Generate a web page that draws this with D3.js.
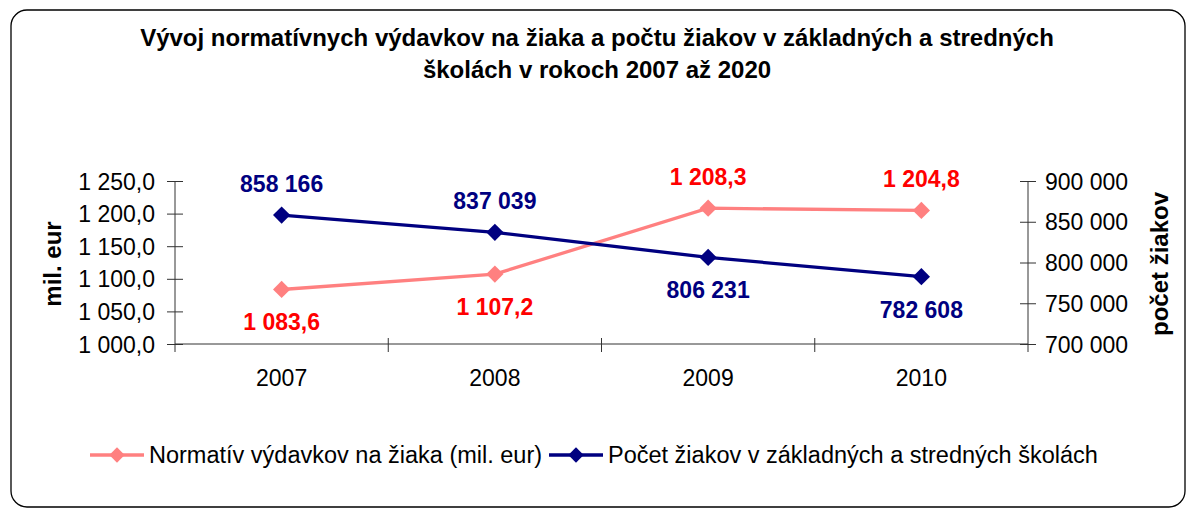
<!DOCTYPE html>
<html>
<head>
<meta charset="utf-8">
<script src="https://cdn.jsdelivr.net/npm/d3@7"></script>
<style>
  body { margin: 0; background: #fff; }
  svg { font-family: "Liberation Sans", Arial, sans-serif; }
</style>
</head>
<body>
<div id="chart"></div>
<script>
let years = ["2007", "2008", "2009", "2010"];
let normativ = [1083.6, 1107.2, 1208.3, 1204.8];
let pocet = [858166, 837039, 806231, 782608];
let normativLabels = ["1 083,6", "1 107,2", "1 208,3", "1 204,8"];
let pocetLabels = ["858 166", "837 039", "806 231", "782 608"];
let normativAbove = [false, false, true, true];
let pocetAbove = [true, true, false, false];
let leftTicks = [1000, 1050, 1100, 1150, 1200, 1250];
let rightTicks = [700000, 750000, 800000, 850000, 900000];

let width = 1186,
    height = 510;

let svg = d3.select("#chart").append("svg")
    .attr("width", width)
    .attr("height", height);

svg.append("rect")
    .attr("x", 11).attr("y", 10)
    .attr("width", 1174).attr("height", 497)
    .attr("rx", 16)
    .attr("fill", "#fff")
    .attr("stroke", "#000")
    .attr("stroke-width", 1.3);

// title
let title = svg.append("text")
    .attr("text-anchor", "middle")
    .attr("font-weight", "bold")
    .attr("font-size", 24);
title.append("tspan").attr("x", 597).attr("y", 46)
    .text("Vývoj normatívnych výdavkov na žiaka a počtu žiakov v základných a stredných");
title.append("tspan").attr("x", 597).attr("y", 78)
    .text("školách v rokoch 2007 až 2020");

let x = d3.scaleBand().domain(years).range([175, 1028]);
let yL = d3.scaleLinear().domain([1000, 1250]).range([344, 181]);
let yR = d3.scaleLinear().domain([700000, 900000]).range([344, 181]);

let axisColor = "#333";

// left axis
let gL = svg.append("g").attr("transform", "translate(175,0)")
    .call(d3.axisLeft(yL).tickValues(leftTicks).tickSize(8)
        .tickFormat(d => d3.format(",.1f")(d).replace(",", " ").replace(".", ",")));
gL.selectAll(".tick line").attr("x1", 8).attr("x2", -8).attr("stroke", axisColor);
gL.selectAll(".tick text").attr("font-size", 23).attr("x", -20).attr("dy", "0.35em")
    .attr("fill", "#000");
gL.select(".domain").remove();
gL.append("line").attr("y1", 181).attr("y2", 352).attr("stroke", axisColor);

// right axis
let gR = svg.append("g").attr("transform", "translate(1028,0)")
    .call(d3.axisRight(yR).tickValues(rightTicks).tickSize(8)
        .tickFormat(d => d3.format(",")(d).replace(/,/g, " ")));
gR.selectAll(".tick line").attr("x1", -8).attr("x2", 8).attr("stroke", axisColor);
gR.selectAll(".tick text").attr("font-size", 23).attr("x", 17).attr("dy", "0.35em")
    .attr("fill", "#000");
gR.select(".domain").remove();
gR.append("line").attr("y1", 181).attr("y2", 352).attr("stroke", axisColor);
gL.attr("font-family", null);
gR.attr("font-family", null);

// x axis
let gX = svg.append("g").attr("transform", "translate(0,344)");
gX.append("line").attr("x1", 175).attr("x2", 1028).attr("stroke", axisColor);
gX.selectAll(".xtick")
    .data(years.slice(1))
  .enter().append("line")
    .attr("x1", d => x(d)).attr("x2", d => x(d))
    .attr("y1", -6).attr("y2", 8)
    .attr("stroke", axisColor);
gX.selectAll(".xlabel")
    .data(years)
  .enter().append("text")
    .attr("x", d => x(d) + x.bandwidth() / 2)
    .attr("y", 42)
    .attr("text-anchor", "middle")
    .attr("font-size", 23)
    .text(d => d);

// axis titles
svg.append("text")
    .attr("transform", "translate(61,264) rotate(-90)")
    .attr("text-anchor", "middle")
    .attr("font-weight", "bold")
    .attr("font-size", 24)
    .text("mil. eur");
svg.append("text")
    .attr("transform", "translate(1168,264) rotate(-90)")
    .attr("text-anchor", "middle")
    .attr("font-weight", "bold")
    .attr("font-size", 24)
    .text("počet žiakov");

let pink = "#FF8080",
    navy = "#000080";
let cx = d => x(d) + x.bandwidth() / 2;
let diamond = d3.symbol().type(d3.symbolDiamond2).size(190);

function drawSeries(values, scale, color, labels, above, labelColor) {
  let g = svg.append("g");
  g.append("path")
    .datum(values)
    .attr("fill", "none")
    .attr("stroke", color)
    .attr("stroke-width", 3.3)
    .attr("d", d3.line().x((d, i) => cx(years[i])).y(d => scale(d)));
  g.selectAll(".pt")
    .data(values)
  .enter().append("path")
    .attr("transform", (d, i) => "translate(" + cx(years[i]) + "," + scale(d) + ")")
    .attr("d", diamond)
    .attr("fill", color);
  g.selectAll(".lbl")
    .data(values)
  .enter().append("text")
    .attr("x", (d, i) => cx(years[i]))
    .attr("y", (d, i) => scale(d) + (above[i] ? -23 : 41))
    .attr("text-anchor", "middle")
    .attr("font-weight", "bold")
    .attr("font-size", 23)
    .attr("fill", labelColor)
    .text((d, i) => labels[i]);
}

drawSeries(normativ, yL, pink, normativLabels, normativAbove, "#FF0000");
drawSeries(pocet, yR, navy, pocetLabels, pocetAbove, navy);

// legend
let legend = [
  {name: "Normatív výdavkov na žiaka (mil. eur)", color: pink, x: 90},
  {name: "Počet žiakov v základných a stredných školách", color: navy, x: 549}
];
let lg = svg.selectAll(".legend")
    .data(legend)
  .enter().append("g")
    .attr("transform", d => "translate(" + d.x + ",455)");
lg.append("line").attr("x1", 0).attr("x2", 54)
    .attr("stroke", d => d.color).attr("stroke-width", 3.3);
lg.append("path").attr("transform", "translate(27,0)")
    .attr("d", d3.symbol().type(d3.symbolDiamond2).size(150))
    .attr("fill", d => d.color);
lg.append("text").attr("x", 59).attr("dy", "0.35em")
    .attr("font-size", 23.5)
    .text(d => d.name);
</script>
</body>
</html>
